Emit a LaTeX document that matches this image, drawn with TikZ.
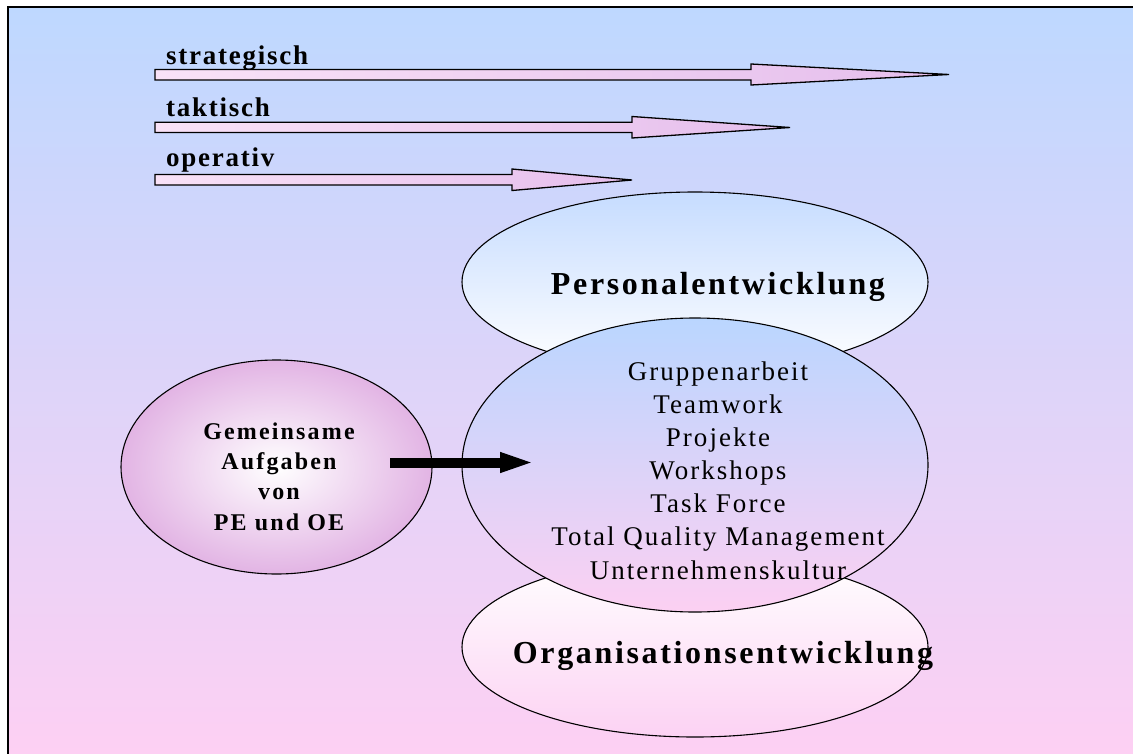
\documentclass[tikz,border=0pt]{standalone}
\usepackage{fontspec}
\setmainfont{Liberation Serif}
\newfontfamily\lblfont{Liberation Serif}[LetterSpace=6.5]
\newfontfamily\titlefont{Liberation Serif}[LetterSpace=8.3]
\newfontfamily\listfont{Liberation Serif}[LetterSpace=7.5]
\newfontfamily\gemfont{Liberation Serif}[LetterSpace=9]
\usetikzlibrary{shapes.geometric,arrows.meta}
\definecolor{bgtop}{RGB}{190,216,255}
\definecolor{bgbot}{RGB}{253,208,243}
\definecolor{arrowL}{RGB}{249,226,247}
\definecolor{arrowR}{RGB}{229,190,236}
\definecolor{petop}{RGB}{198,220,255}
\definecolor{midtop}{RGB}{186,214,255}
\definecolor{midbot}{RGB}{252,208,242}
\definecolor{oebot}{RGB}{252,210,243}
\definecolor{circout}{RGB}{226,180,228}
\begin{document}
\begin{tikzpicture}[x=1pt,y=-1pt,
  bigarrow/.style={draw=black,line width=1.3pt,line join=miter,left color=arrowL,right color=arrowR},
  lbl/.style={anchor=base west,inner sep=0,font=\lblfont\bfseries\fontsize{27}{31}\selectfont},
  ell/.style={ellipse,draw=black,line width=1.1pt,inner sep=0,minimum width=466pt},
  ttl/.style={anchor=base,inner sep=0,font=\titlefont\bfseries\fontsize{32}{36}\selectfont},
  lst/.style={anchor=base,inner sep=0,font=\listfont\fontsize{27}{33}\selectfont},
  gem/.style={anchor=base,inner sep=0,font=\gemfont\bfseries\fontsize{24}{28}\selectfont}]
\useasboundingbox (0,0) rectangle (1133,753);
% background and frame
\fill[top color=bgtop,bottom color=bgbot] (8,7) rectangle (1133,753);
\draw[line width=2.5pt,line cap=rect] (8,753) -- (8,7) -- (1133,7);
% top arrows
\draw[bigarrow] (155,69.5) -- (751,69.5) -- (751,64) -- (949,74.5) -- (751,85) -- (751,80) -- (155,80) -- cycle;
\draw[bigarrow] (155,122.3) -- (632,122.3) -- (632,116.5) -- (790,127.5) -- (632,138) -- (632,132.5) -- (155,132.5) -- cycle;
\draw[bigarrow] (155,174.5) -- (512,174.5) -- (512,169) -- (632,180) -- (512,190.5) -- (512,185) -- (155,185) -- cycle;
\node[lbl] (ls) at (166,64) {strategisch};
\node[lbl] (lt) at (166,116) {taktisch};
\node[lbl] (lo) at (166,166.5) {operativ};
% ellipses
\node[ell,minimum height=180pt,top color=petop,bottom color=white] (pe) at (695,282) {};
\node[ell,minimum height=180pt,top color=white,bottom color=oebot] (oe) at (695,647) {};
\node[ell,minimum height=294pt,top color=midtop,bottom color=midbot] (mid) at (695,465) {};
\node[ellipse,draw=black,line width=1.1pt,inner sep=0,minimum width=311pt,minimum height=214pt,inner color=white,outer color=circout] (gem) at (276.5,467) {};
% titles
\node[ttl] (pet) at (718,294) {Personalentwicklung};
\node[ttl] (oet) at (723,663) {Organisationsentwicklung};
% list
\foreach \t [count=\i] in {Gruppenarbeit,Teamwork,Projekte,Workshops,Task Force,Total Quality Management,Unternehmenskultur}{
  \pgfmathsetmacro\yy{380+(\i-1)*33.17}
  \node[lst] (m\i) at (718,\yy) {\t};
}
\foreach \t [count=\i] in {Gemeinsame,Aufgaben,von,PE und OE}{
  \pgfmathsetmacro\yy{439.5+(\i-1)*30.2}
  \node[gem] (g\i) at (279,\yy) {\t};
}
% black arrow
\coordinate (as) at (390,462.5);
\coordinate (ae) at (535,462.5);
\draw[line width=10pt,-{Triangle[length=35pt,width=18pt]}] (as) -- (ae);
\end{tikzpicture}
\end{document}
